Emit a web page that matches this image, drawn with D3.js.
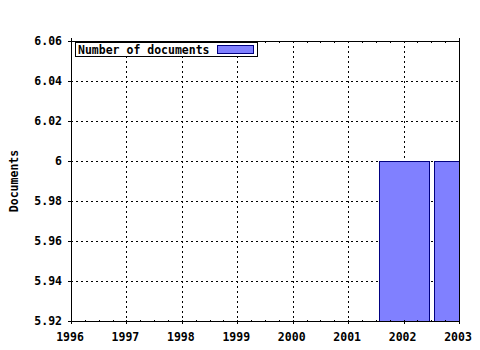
<!DOCTYPE html>
<html><head><meta charset="utf-8">
<script src="https://cdn.jsdelivr.net/npm/d3@7"></script>
<style>body{margin:0;background:#fff}svg{display:block}text{font-family:"DejaVu Sans Mono",monospace;font-weight:bold;font-size:11.5px;fill:#000}</style>
</head><body><svg id="c" width="480" height="350"></svg>
<script>
const years = [2002, 2003];
const documents = [6, 6];
const xTicks = [1996, 1997, 1998, 1999, 2000, 2001, 2002, 2003];
const yTicks = [5.92, 5.94, 5.96, 5.98, 6, 6.02, 6.04, 6.06];
const seriesName = "Number of documents";
const yTitle = "Documents";

const svg = d3.select("#c");
const L = 71, R = 459, T = 41, B = 321;
const x = d3.scaleLinear().domain([1996, 2003]).range([L, R]);
const y = d3.scaleLinear().domain([5.92, 6.06]).range([B, T]);

svg.append("defs").append("clipPath").attr("id","clip")
  .append("rect").attr("x", L).attr("y", T).attr("width", R - L).attr("height", B - T);

// grid
const g = svg.append("g").attr("stroke", "#000").attr("stroke-dasharray", "2,3").attr("shape-rendering","crispEdges");
g.selectAll(".vg").data(xTicks.slice(1, -1)).join("line")
  .attr("x1", d => Math.round(x(d)) + 0.5).attr("x2", d => Math.round(x(d)) + 0.5)
  .attr("y1", T).attr("y2", B);
g.selectAll(".hg").data(yTicks.slice(1, -1)).join("line")
  .attr("y1", d => Math.round(y(d)) + 0.5).attr("y2", d => Math.round(y(d)) + 0.5)
  .attr("x1", L).attr("x2", R);

// bars
svg.append("g").attr("clip-path", "url(#clip)").selectAll("rect").data(years).join("rect")
  .attr("x", d => Math.round(x(d - 0.45)) + 0.5)
  .attr("width", d => Math.round(x(d + 0.45)) - Math.round(x(d - 0.45)))
  .attr("y", (d, i) => Math.round(y(documents[i])) + 0.5)
  .attr("height", (d, i) => B - Math.round(y(documents[i])))
  .attr("fill", "#8080ff").attr("stroke", "#000080").attr("shape-rendering","crispEdges");

// axes frame
const a = svg.append("g").attr("stroke", "#000").attr("shape-rendering","crispEdges");
a.append("line").attr("x1", L + 0.5).attr("x2", L + 0.5).attr("y1", T - 3).attr("y2", B + 3);
a.append("line").attr("x1", R + 0.5).attr("x2", R + 0.5).attr("y1", T - 3).attr("y2", B + 1);
a.append("line").attr("x1", L - 3).attr("x2", R + 1).attr("y1", T + 0.5).attr("y2", T + 0.5);
a.append("line").attr("x1", L - 3).attr("x2", R + 1).attr("y1", B + 0.5).attr("y2", B + 0.5);

// y ticks
a.selectAll(".yt").data(yTicks).join("line")
  .attr("x1", L - 3).attr("x2", L)
  .attr("y1", d => Math.round(y(d)) + 0.5).attr("y2", d => Math.round(y(d)) + 0.5);
// x minor ticks (quarters)
const minor = d3.range(1996, 2003.01, 0.25);
a.selectAll(".xb").data(minor).join("line")
  .attr("x1", d => Math.round(x(d)) + 0.5).attr("x2", d => Math.round(x(d)) + 0.5)
  .attr("y1", B - 1).attr("y2", d => Number.isInteger(d) ? B + 3 : B);
a.selectAll(".xt").data(minor).join("line")
  .attr("x1", d => Math.round(x(d)) + 0.5).attr("x2", d => Math.round(x(d)) + 0.5)
  .attr("y1", T - (0)).attr("y2", T + 2);

// labels
svg.selectAll(".yl").data(yTicks).join("text")
  .attr("x", 62).attr("y", d => y(d) + 4).attr("text-anchor", "end")
  .text(d => d3.format("")(+d.toFixed(2)).replace(/(\.\d*?)0+$/, "$1"));
svg.selectAll(".xl").data(xTicks).join("text")
  .attr("x", d => x(d) - 1).attr("y", 341).attr("text-anchor", "middle").text(d => d);
svg.append("text").attr("transform", "translate(18,181) rotate(-90)")
  .attr("text-anchor", "middle").text(yTitle);

// legend
const lg = svg.append("g").attr("shape-rendering","crispEdges");
lg.append("rect").attr("x", 75.5).attr("y", 42.5).attr("width", 182).attr("height", 14)
  .attr("fill", "#fff").attr("stroke", "#000");
lg.append("text").attr("x", 78).attr("y", 53.5).text(seriesName);
lg.append("rect").attr("x", 217.5).attr("y", 45.5).attr("width", 36).attr("height", 8)
  .attr("fill", "#8080ff").attr("stroke", "#000080");
</script></body></html>
